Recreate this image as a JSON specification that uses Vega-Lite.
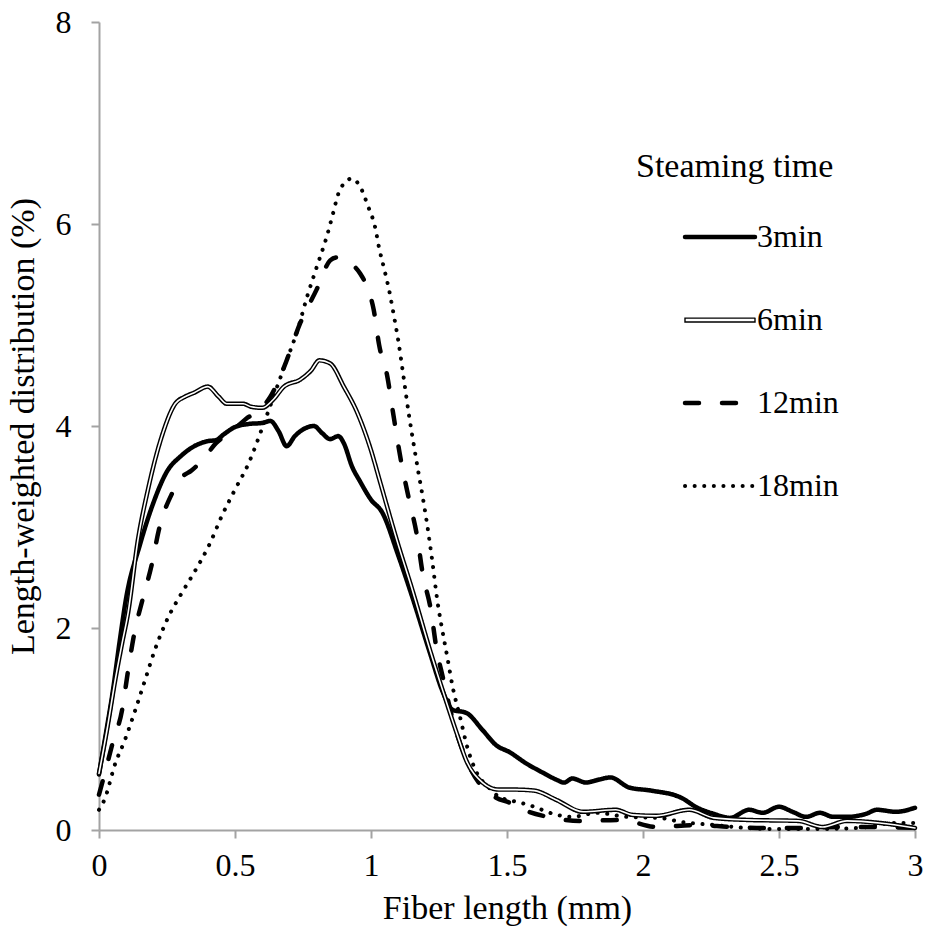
{
  "$schema": "https://vega.github.io/schema/vega-lite/v6.json",
  "width": 816,
  "height": 808,
  "autosize": "none",
  "padding": {"left": 99, "top": 22, "right": 14, "bottom": 112},
  "background": "white",
  "config": {
    "font": "Liberation Serif",
    "view": {"stroke": null},
    "axis": {
      "grid": false,
      "domainColor": "#a3a3a3",
      "domainWidth": 2,
      "tickColor": "#a3a3a3",
      "tickWidth": 2,
      "tickSize": 8,
      "labelFont": "Liberation Serif",
      "labelFontSize": 32,
      "labelColor": "black",
      "titleFont": "Liberation Serif",
      "titleFontSize": 34,
      "titleFontWeight": "normal",
      "titleColor": "black",
      "titleLimit": 800
    },
    "legend": {
      "labelFont": "Liberation Serif",
      "titleFont": "Liberation Serif"
    }
  },
  "data": {
    "values": [
      {"series": "3min", "length": 0, "dist": 0.55},
      {"series": "3min", "length": 0.025, "dist": 0.95},
      {"series": "3min", "length": 0.05, "dist": 1.36},
      {"series": "3min", "length": 0.075, "dist": 1.85},
      {"series": "3min", "length": 0.1, "dist": 2.3},
      {"series": "3min", "length": 0.15, "dist": 2.82},
      {"series": "3min", "length": 0.2, "dist": 3.24},
      {"series": "3min", "length": 0.25, "dist": 3.55},
      {"series": "3min", "length": 0.3, "dist": 3.7},
      {"series": "3min", "length": 0.35, "dist": 3.8},
      {"series": "3min", "length": 0.4, "dist": 3.85},
      {"series": "3min", "length": 0.43, "dist": 3.86},
      {"series": "3min", "length": 0.46, "dist": 3.92},
      {"series": "3min", "length": 0.5, "dist": 3.99},
      {"series": "3min", "length": 0.55, "dist": 4.02},
      {"series": "3min", "length": 0.6, "dist": 4.03},
      {"series": "3min", "length": 0.63, "dist": 4.05},
      {"series": "3min", "length": 0.66, "dist": 3.95},
      {"series": "3min", "length": 0.69, "dist": 3.8},
      {"series": "3min", "length": 0.72, "dist": 3.9},
      {"series": "3min", "length": 0.76, "dist": 3.98},
      {"series": "3min", "length": 0.79, "dist": 4.0},
      {"series": "3min", "length": 0.82, "dist": 3.93},
      {"series": "3min", "length": 0.85, "dist": 3.87},
      {"series": "3min", "length": 0.88, "dist": 3.9},
      {"series": "3min", "length": 0.9, "dist": 3.83},
      {"series": "3min", "length": 0.93, "dist": 3.6},
      {"series": "3min", "length": 0.96, "dist": 3.45},
      {"series": "3min", "length": 1.0, "dist": 3.27},
      {"series": "3min", "length": 1.04, "dist": 3.15},
      {"series": "3min", "length": 1.1, "dist": 2.72},
      {"series": "3min", "length": 1.155, "dist": 2.28},
      {"series": "3min", "length": 1.217, "dist": 1.75},
      {"series": "3min", "length": 1.265, "dist": 1.36},
      {"series": "3min", "length": 1.3, "dist": 1.19},
      {"series": "3min", "length": 1.35, "dist": 1.16},
      {"series": "3min", "length": 1.41, "dist": 0.99},
      {"series": "3min", "length": 1.46, "dist": 0.84},
      {"series": "3min", "length": 1.51, "dist": 0.77},
      {"series": "3min", "length": 1.57, "dist": 0.66},
      {"series": "3min", "length": 1.63, "dist": 0.57},
      {"series": "3min", "length": 1.68, "dist": 0.5},
      {"series": "3min", "length": 1.71, "dist": 0.47},
      {"series": "3min", "length": 1.74, "dist": 0.51},
      {"series": "3min", "length": 1.79, "dist": 0.47},
      {"series": "3min", "length": 1.84, "dist": 0.5},
      {"series": "3min", "length": 1.88, "dist": 0.52},
      {"series": "3min", "length": 1.95, "dist": 0.42},
      {"series": "3min", "length": 2.03, "dist": 0.39},
      {"series": "3min", "length": 2.14, "dist": 0.32},
      {"series": "3min", "length": 2.2, "dist": 0.22},
      {"series": "3min", "length": 2.26, "dist": 0.16},
      {"series": "3min", "length": 2.32, "dist": 0.12},
      {"series": "3min", "length": 2.39, "dist": 0.2},
      {"series": "3min", "length": 2.44, "dist": 0.17},
      {"series": "3min", "length": 2.5, "dist": 0.23},
      {"series": "3min", "length": 2.55, "dist": 0.18},
      {"series": "3min", "length": 2.6, "dist": 0.13},
      {"series": "3min", "length": 2.65, "dist": 0.17},
      {"series": "3min", "length": 2.7, "dist": 0.13},
      {"series": "3min", "length": 2.75, "dist": 0.13},
      {"series": "3min", "length": 2.82, "dist": 0.16},
      {"series": "3min", "length": 2.86, "dist": 0.2},
      {"series": "3min", "length": 2.93, "dist": 0.18},
      {"series": "3min", "length": 3.0, "dist": 0.22},

      {"series": "6min", "length": 0, "dist": 0.56},
      {"series": "6min", "length": 0.03, "dist": 1.0},
      {"series": "6min", "length": 0.06, "dist": 1.49},
      {"series": "6min", "length": 0.085, "dist": 1.85},
      {"series": "6min", "length": 0.107, "dist": 2.15},
      {"series": "6min", "length": 0.143, "dist": 2.87},
      {"series": "6min", "length": 0.18, "dist": 3.37},
      {"series": "6min", "length": 0.23, "dist": 3.89},
      {"series": "6min", "length": 0.28, "dist": 4.22},
      {"series": "6min", "length": 0.316, "dist": 4.29},
      {"series": "6min", "length": 0.35, "dist": 4.33},
      {"series": "6min", "length": 0.4, "dist": 4.39},
      {"series": "6min", "length": 0.44, "dist": 4.29},
      {"series": "6min", "length": 0.47, "dist": 4.22},
      {"series": "6min", "length": 0.53, "dist": 4.22},
      {"series": "6min", "length": 0.56, "dist": 4.19},
      {"series": "6min", "length": 0.6, "dist": 4.18},
      {"series": "6min", "length": 0.64, "dist": 4.26},
      {"series": "6min", "length": 0.68, "dist": 4.39},
      {"series": "6min", "length": 0.74, "dist": 4.46},
      {"series": "6min", "length": 0.78, "dist": 4.55},
      {"series": "6min", "length": 0.81, "dist": 4.65},
      {"series": "6min", "length": 0.85, "dist": 4.62},
      {"series": "6min", "length": 0.9, "dist": 4.39},
      {"series": "6min", "length": 0.95, "dist": 4.13},
      {"series": "6min", "length": 1.0, "dist": 3.76},
      {"series": "6min", "length": 1.033, "dist": 3.45},
      {"series": "6min", "length": 1.095, "dist": 2.87},
      {"series": "6min", "length": 1.155, "dist": 2.35},
      {"series": "6min", "length": 1.217, "dist": 1.78},
      {"series": "6min", "length": 1.265, "dist": 1.37},
      {"series": "6min", "length": 1.315, "dist": 0.96},
      {"series": "6min", "length": 1.35, "dist": 0.69},
      {"series": "6min", "length": 1.41, "dist": 0.47},
      {"series": "6min", "length": 1.47, "dist": 0.4},
      {"series": "6min", "length": 1.53, "dist": 0.4},
      {"series": "6min", "length": 1.6, "dist": 0.39},
      {"series": "6min", "length": 1.68, "dist": 0.3},
      {"series": "6min", "length": 1.78, "dist": 0.18},
      {"series": "6min", "length": 1.9, "dist": 0.2},
      {"series": "6min", "length": 1.96, "dist": 0.15},
      {"series": "6min", "length": 2.05, "dist": 0.14},
      {"series": "6min", "length": 2.17, "dist": 0.2},
      {"series": "6min", "length": 2.26, "dist": 0.12},
      {"series": "6min", "length": 2.38, "dist": 0.1},
      {"series": "6min", "length": 2.57, "dist": 0.09},
      {"series": "6min", "length": 2.66, "dist": 0.03},
      {"series": "6min", "length": 2.75, "dist": 0.09},
      {"series": "6min", "length": 2.87, "dist": 0.07},
      {"series": "6min", "length": 3.0, "dist": 0.02},

      {"series": "12min", "length": 0, "dist": 0.35},
      {"series": "12min", "length": 0.025, "dist": 0.6},
      {"series": "12min", "length": 0.05, "dist": 0.86},
      {"series": "12min", "length": 0.085, "dist": 1.19},
      {"series": "12min", "length": 0.107, "dist": 1.58},
      {"series": "12min", "length": 0.13, "dist": 1.95},
      {"series": "12min", "length": 0.16, "dist": 2.28},
      {"series": "12min", "length": 0.195, "dist": 2.64},
      {"series": "12min", "length": 0.22, "dist": 2.97},
      {"series": "12min", "length": 0.27, "dist": 3.34},
      {"series": "12min", "length": 0.3, "dist": 3.48},
      {"series": "12min", "length": 0.34, "dist": 3.56},
      {"series": "12min", "length": 0.38, "dist": 3.66},
      {"series": "12min", "length": 0.43, "dist": 3.83},
      {"series": "12min", "length": 0.49, "dist": 3.95},
      {"series": "12min", "length": 0.54, "dist": 4.07},
      {"series": "12min", "length": 0.59, "dist": 4.16},
      {"series": "12min", "length": 0.63, "dist": 4.29},
      {"series": "12min", "length": 0.68, "dist": 4.58},
      {"series": "12min", "length": 0.74, "dist": 5.02},
      {"series": "12min", "length": 0.8, "dist": 5.35},
      {"series": "12min", "length": 0.85, "dist": 5.64},
      {"series": "12min", "length": 0.875, "dist": 5.67},
      {"series": "12min", "length": 0.9, "dist": 5.64},
      {"series": "12min", "length": 0.93, "dist": 5.6},
      {"series": "12min", "length": 0.96, "dist": 5.51},
      {"series": "12min", "length": 0.985, "dist": 5.38},
      {"series": "12min", "length": 1.01, "dist": 5.15},
      {"series": "12min", "length": 1.03, "dist": 4.8},
      {"series": "12min", "length": 1.06, "dist": 4.49},
      {"series": "12min", "length": 1.08, "dist": 4.15},
      {"series": "12min", "length": 1.11, "dist": 3.66},
      {"series": "12min", "length": 1.14, "dist": 3.27},
      {"series": "12min", "length": 1.17, "dist": 2.9},
      {"series": "12min", "length": 1.19, "dist": 2.54},
      {"series": "12min", "length": 1.22, "dist": 2.18},
      {"series": "12min", "length": 1.24, "dist": 1.81},
      {"series": "12min", "length": 1.265, "dist": 1.5},
      {"series": "12min", "length": 1.3, "dist": 1.1},
      {"series": "12min", "length": 1.35, "dist": 0.7},
      {"series": "12min", "length": 1.41, "dist": 0.42},
      {"series": "12min", "length": 1.46, "dist": 0.32},
      {"series": "12min", "length": 1.51, "dist": 0.27},
      {"series": "12min", "length": 1.58, "dist": 0.18},
      {"series": "12min", "length": 1.65, "dist": 0.13},
      {"series": "12min", "length": 1.77, "dist": 0.09},
      {"series": "12min", "length": 1.92, "dist": 0.1},
      {"series": "12min", "length": 2.05, "dist": 0.03},
      {"series": "12min", "length": 2.2, "dist": 0.05},
      {"series": "12min", "length": 2.32, "dist": 0.03},
      {"series": "12min", "length": 2.44, "dist": 0.02},
      {"series": "12min", "length": 2.56, "dist": 0.02},
      {"series": "12min", "length": 2.72, "dist": 0.03},
      {"series": "12min", "length": 2.85, "dist": 0.03},
      {"series": "12min", "length": 3.0, "dist": 0.02},

      {"series": "18min", "length": 0, "dist": 0.2},
      {"series": "18min", "length": 0.02, "dist": 0.3},
      {"series": "18min", "length": 0.06, "dist": 0.66},
      {"series": "18min", "length": 0.095, "dist": 0.89},
      {"series": "18min", "length": 0.13, "dist": 1.16},
      {"series": "18min", "length": 0.17, "dist": 1.49},
      {"series": "18min", "length": 0.205, "dist": 1.78},
      {"series": "18min", "length": 0.25, "dist": 2.08},
      {"series": "18min", "length": 0.305, "dist": 2.35},
      {"series": "18min", "length": 0.35, "dist": 2.55},
      {"series": "18min", "length": 0.41, "dist": 2.85},
      {"series": "18min", "length": 0.45, "dist": 3.1},
      {"series": "18min", "length": 0.5, "dist": 3.37},
      {"series": "18min", "length": 0.55, "dist": 3.63},
      {"series": "18min", "length": 0.6, "dist": 3.98},
      {"series": "18min", "length": 0.655, "dist": 4.39},
      {"series": "18min", "length": 0.69, "dist": 4.65},
      {"series": "18min", "length": 0.73, "dist": 4.95},
      {"series": "18min", "length": 0.765, "dist": 5.28},
      {"series": "18min", "length": 0.8, "dist": 5.57},
      {"series": "18min", "length": 0.84, "dist": 5.9},
      {"series": "18min", "length": 0.86, "dist": 6.1},
      {"series": "18min", "length": 0.88, "dist": 6.3},
      {"series": "18min", "length": 0.9, "dist": 6.4},
      {"series": "18min", "length": 0.93, "dist": 6.45},
      {"series": "18min", "length": 0.96, "dist": 6.37},
      {"series": "18min", "length": 0.99, "dist": 6.17},
      {"series": "18min", "length": 1.015, "dist": 5.97},
      {"series": "18min", "length": 1.03, "dist": 5.76},
      {"series": "18min", "length": 1.05, "dist": 5.54},
      {"series": "18min", "length": 1.07, "dist": 5.3},
      {"series": "18min", "length": 1.085, "dist": 5.08},
      {"series": "18min", "length": 1.1, "dist": 4.85},
      {"series": "18min", "length": 1.12, "dist": 4.48},
      {"series": "18min", "length": 1.14, "dist": 4.1},
      {"series": "18min", "length": 1.155, "dist": 3.85},
      {"series": "18min", "length": 1.175, "dist": 3.53},
      {"series": "18min", "length": 1.19, "dist": 3.3},
      {"series": "18min", "length": 1.205, "dist": 3.05},
      {"series": "18min", "length": 1.225, "dist": 2.67},
      {"series": "18min", "length": 1.245, "dist": 2.25},
      {"series": "18min", "length": 1.26, "dist": 2.01},
      {"series": "18min", "length": 1.28, "dist": 1.72},
      {"series": "18min", "length": 1.3, "dist": 1.42},
      {"series": "18min", "length": 1.33, "dist": 1.09},
      {"series": "18min", "length": 1.35, "dist": 0.86},
      {"series": "18min", "length": 1.39, "dist": 0.56},
      {"series": "18min", "length": 1.43, "dist": 0.43},
      {"series": "18min", "length": 1.47, "dist": 0.33},
      {"series": "18min", "length": 1.55, "dist": 0.27},
      {"series": "18min", "length": 1.6, "dist": 0.23},
      {"series": "18min", "length": 1.67, "dist": 0.16},
      {"series": "18min", "length": 1.74, "dist": 0.13},
      {"series": "18min", "length": 1.83, "dist": 0.17},
      {"series": "18min", "length": 1.94, "dist": 0.13},
      {"series": "18min", "length": 2.06, "dist": 0.12},
      {"series": "18min", "length": 2.14, "dist": 0.08},
      {"series": "18min", "length": 2.26, "dist": 0.05},
      {"series": "18min", "length": 2.38, "dist": 0.02},
      {"series": "18min", "length": 2.5, "dist": 0.01},
      {"series": "18min", "length": 2.63, "dist": 0.01},
      {"series": "18min", "length": 2.79, "dist": 0.02},
      {"series": "18min", "length": 2.93, "dist": 0.07},
      {"series": "18min", "length": 3.0, "dist": 0.07}
    ]
  },
  "layer": [
    {
      "mark": {"type": "line", "stroke": "black", "strokeCap": "round", "strokeJoin": "round", "interpolate": "monotone"},
      "encoding": {
        "x": {
          "field": "length", "type": "quantitative",
          "scale": {"domain": [0, 3], "nice": false},
          "axis": {"values": [0, 0.5, 1, 1.5, 2, 2.5, 3], "format": "~g", "labelPadding": 12, "titlePadding": 10, "labelFlush": false},
          "title": "Fiber length (mm)"
        },
        "y": {
          "field": "dist", "type": "quantitative",
          "scale": {"domain": [0, 8], "nice": false},
          "axis": {"values": [0, 2, 4, 6, 8], "format": "~g", "labelPadding": 20, "titlePadding": 15},
          "title": "Length-weighted distribution (%)"
        },
        "strokeDash": {
          "field": "series", "type": "nominal",
          "scale": {"domain": ["3min", "6min", "12min", "18min"], "range": [[1, 0], [1, 0], [14, 23], [0.1, 9.5]]},
          "legend": {
            "title": "Steaming time",
            "orient": "none",
            "legendX": 537,
            "legendY": 128,
            "symbolType": "stroke",
            "symbolSize": 4900,
            "symbolOffset": 68,
            "symbolStrokeColor": "black",
            "labelFont": "Liberation Serif",
            "labelFontSize": 32,
            "labelColor": "black",
            "labelOffset": 21,
            "labelLimit": 300,
            "titleFont": "Liberation Serif",
            "titleFontSize": 34,
            "titleFontWeight": "normal",
            "titleColor": "black",
            "titleLimit": 400,
            "titlePadding": 37,
            "rowPadding": 51,
            "encode": {
              "symbols": {
                "update": {
                  "shape": {"signal": "datum.value === '6min' ? 'M-1,-0.055L1,-0.055L1,0.055L-1,0.055Z' : 'stroke'"},
                  "strokeWidth": {"signal": "datum.value === '18min' ? 4 : datum.value === '6min' ? 1.4 : 4.5"},
                  "strokeDash": {"signal": "datum.value === '12min' ? [26, 11] : datum.value === '18min' ? [0.1, 11] : [1, 0]"},
                  "strokeCap": {"value": "round"}
                }
              }
            }
          }
        },
        "strokeWidth": {
          "condition": {"test": "datum.series === '18min'", "value": 4},
          "value": 4.5
        }
      }
    },
    {
      "transform": [{"filter": "datum.series === '6min'"}],
      "mark": {"type": "line", "stroke": "white", "strokeCap": "round", "strokeJoin": "round", "interpolate": "monotone", "strokeWidth": 1.6},
      "encoding": {
        "x": {"field": "length", "type": "quantitative"},
        "y": {"field": "dist", "type": "quantitative"}
      }
    }
  ]
}
